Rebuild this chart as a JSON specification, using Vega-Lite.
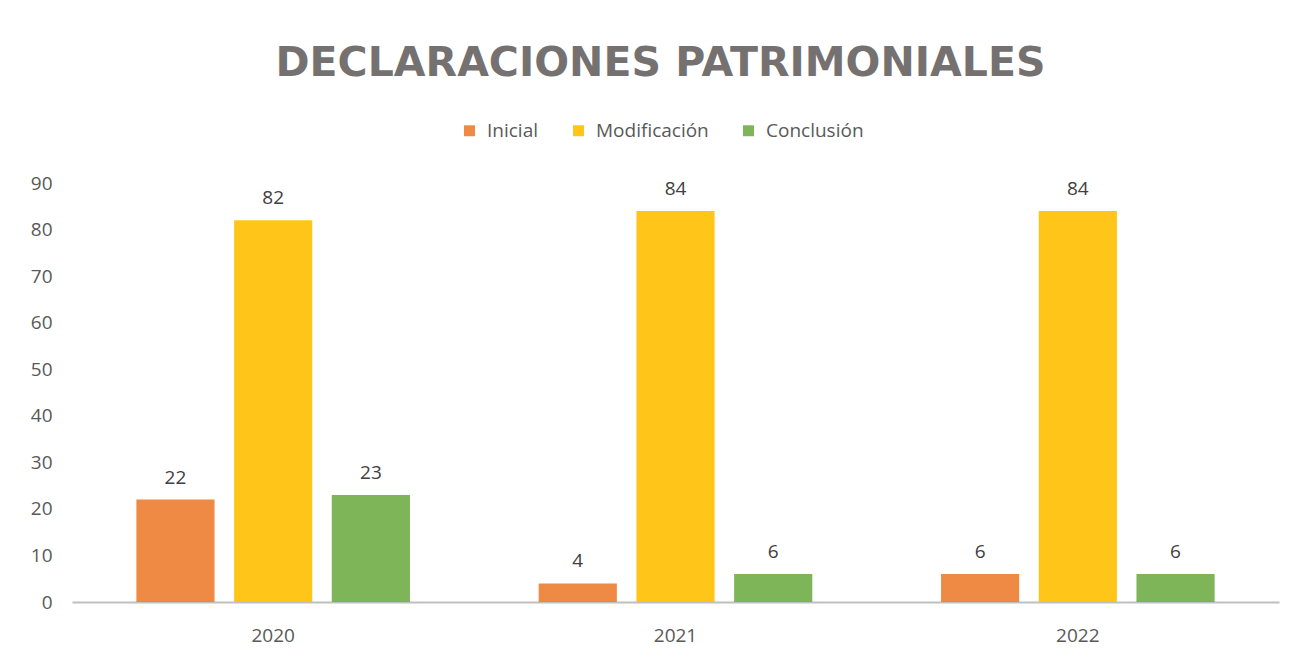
{
  "$schema": "https://vega.github.io/schema/vega-lite/v6.json",
  "autosize": {"type": "none"},
  "width": 1207,
  "height": 419,
  "padding": {"left": 72, "top": 183, "right": 17, "bottom": 59},
  "background": "white",
  "view": {"stroke": null},
  "title": {
    "text": "DECLARACIONES PATRIMONIALES",
    "font": "DejaVu Sans",
    "fontSize": 41,
    "fontWeight": "bold",
    "color": "#757171",
    "anchor": "middle",
    "dx": -15,
    "offset": 36
  },
  "data": {
    "values": [
      {"year": "2020", "tipo": "Inicial", "valor": 22},
      {"year": "2020", "tipo": "Modificación", "valor": 82},
      {"year": "2020", "tipo": "Conclusión", "valor": 23},
      {"year": "2021", "tipo": "Inicial", "valor": 4},
      {"year": "2021", "tipo": "Modificación", "valor": 84},
      {"year": "2021", "tipo": "Conclusión", "valor": 6},
      {"year": "2022", "tipo": "Inicial", "valor": 6},
      {"year": "2022", "tipo": "Modificación", "valor": 84},
      {"year": "2022", "tipo": "Conclusión", "valor": 6}
    ]
  },
  "encoding": {
    "x": {
      "field": "year", "type": "nominal",
      "scale": {"paddingInner": 0.32, "paddingOuter": 0.16},
      "axis": {
        "title": null, "labelAngle": 0, "ticks": false,
        "domainColor": "#bfbfbf", "domainWidth": 2,
        "labelFont": "Open Sans", "labelFontSize": 19, "labelColor": "#595959",
        "labelPadding": 24
      }
    },
    "xOffset": {
      "field": "tipo", "type": "nominal",
      "sort": ["Inicial", "Modificación", "Conclusión"],
      "scale": {"paddingInner": 0.2}
    },
    "y": {
      "field": "valor", "type": "quantitative",
      "scale": {"domain": [0, 90]},
      "axis": {
        "title": null, "values": [0,10,20,30,40,50,60,70,80,90],
        "grid": false, "domain": false, "ticks": false,
        "labelFont": "Open Sans", "labelFontSize": 19, "labelColor": "#595959",
        "labelPadding": 20
      }
    }
  },
  "layer": [
    {
      "mark": {"type": "bar", "opacity": 0.9},
      "encoding": {
        "color": {
          "field": "tipo", "type": "nominal",
          "sort": ["Inicial", "Modificación", "Conclusión"],
          "scale": {"domain": ["Inicial", "Modificación", "Conclusión"], "range": ["#ED7D31", "#FFC000", "#70AD47"]},
          "legend": {
            "title": null, "orient": "none", "direction": "horizontal",
            "legendX": 388, "legendY": -62,
            "symbolType": "square", "symbolSize": 120, "symbolOpacity": 0.9,
            "labelFont": "Open Sans", "labelFontSize": 19, "labelColor": "#595959",
            "columnPadding": 30, "labelOffset": 8
          }
        }
      }
    },
    {
      "mark": {"type": "text", "baseline": "bottom", "dy": -12, "font": "Open Sans", "fontSize": 19, "color": "#404040"},
      "encoding": {"text": {"field": "valor", "type": "quantitative"}}
    }
  ]
}
